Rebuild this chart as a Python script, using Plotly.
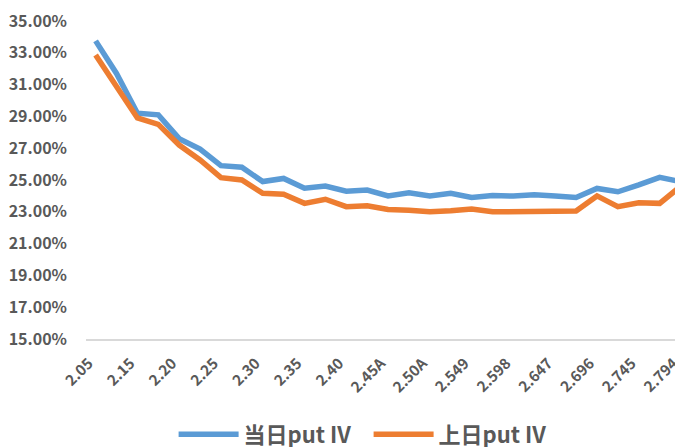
import plotly.graph_objects as go

strikes = ["2.05", "2.10", "2.15", "2.156", "2.20", "2.205", "2.25", "2.254", "2.30", "2.303",
           "2.35", "2.352", "2.40", "2.401", "2.45A", "2.50", "2.50A", "2.500", "2.549", "2.55",
           "2.598", "2.60", "2.647", "2.65", "2.696", "2.70", "2.745", "2.75", "2.794"]
tick_labels = ["2.05", "2.15", "2.20", "2.25", "2.30", "2.35", "2.40", "2.45A", "2.50A",
               "2.549", "2.598", "2.647", "2.696", "2.745", "2.794"]
today_iv = [33.75, 31.7, 29.2, 29.1, 27.6, 26.95, 25.9, 25.8, 24.9, 25.1,
            24.48, 24.62, 24.3, 24.37, 24.0, 24.2, 24.0, 24.16, 23.9, 24.03,
            23.99, 24.07, 24.0, 23.9, 24.47, 24.26, 24.69, 25.17, 24.9]
prev_iv = [32.86, 30.8, 28.9, 28.5, 27.2, 26.26, 25.15, 25.0, 24.16, 24.1,
           23.53, 23.79, 23.32, 23.38, 23.15, 23.1, 23.0, 23.07, 23.18, 23.0,
           23.0, 23.0, 23.0, 23.05, 24.0, 23.32, 23.57, 23.53, 24.6]
yticks = [15, 17, 19, 21, 23, 25, 27, 29, 31, 33, 35]

font_family = "Noto Sans CJK SC"
gray = "#595959"

fig = go.Figure()
fig.add_trace(go.Scatter(x=strikes, y=[v / 100 for v in today_iv], mode="lines",
                         name="当日put IV", line=dict(color="#5B9BD5", width=5.5)))
fig.add_trace(go.Scatter(x=strikes, y=[v / 100 for v in prev_iv], mode="lines",
                         name="上日put IV", line=dict(color="#ED7D31", width=5.5)))

fig.update_layout(
    width=683, height=447,
    margin=dict(l=78, r=0, t=13, b=116, autoexpand=False),
    paper_bgcolor="white", plot_bgcolor="white",
    font=dict(family=font_family, color=gray, weight="bold"),
    showlegend=True,
    legend=dict(orientation="h", x=0.1448, xanchor="left", y=-0.30, yanchor="middle",
                font=dict(size=22, color=gray, family=font_family, weight="bold"),
                itemwidth=60, entrywidth=120, bgcolor="rgba(0,0,0,0)"),
    xaxis=dict(type="category", categoryorder="array", categoryarray=strikes,
               range=[-0.46, 28.5], tickmode="array", tickvals=tick_labels, ticktext=tick_labels,
               tickangle=-45, tickfont=dict(size=15, color=gray, family=font_family, weight="bold"),
               showgrid=False, showline=True, linecolor="#D9D9D9", linewidth=1.5,
               ticks="", ticklabelstandoff=8, ticklabelshift=-7, zeroline=False, automargin=False),
    yaxis=dict(range=[0.15, 0.35], tickmode="array", tickvals=[v / 100 for v in yticks],
               tickformat=".2%", tickfont=dict(size=16, color=gray, family=font_family, weight="bold"),
               showgrid=False, showline=False, zeroline=False, ticks="", ticklabelstandoff=18,
               ticklabeloverflow="allow", automargin=False),
)

fig.write_html("out.html")
